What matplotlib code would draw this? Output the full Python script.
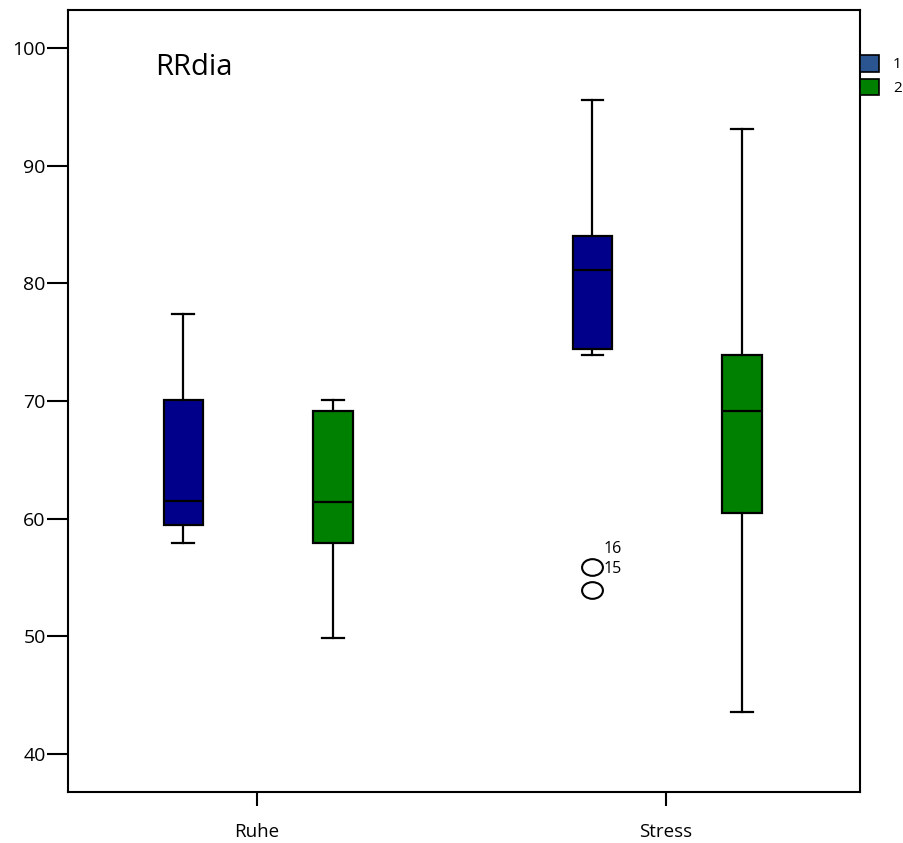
import matplotlib
matplotlib.use("Agg")
import matplotlib.pyplot as plt
from matplotlib.patches import Patch
from matplotlib.markers import MarkerStyle
from matplotlib.transforms import Affine2D

plt.rcParams['font.family'] = ['Open Sans', 'DejaVu Sans']

categories = ["Ruhe", "Stress"]
groups = ["1", "2"]
# per category: [group1, group2]
whislo = [[57.95, 49.9], [73.9, 43.55]]
q1 = [[59.45, 57.95], [74.45, 60.45]]
med = [[61.5, 61.4], [81.1, 69.15]]
q3 = [[70.05, 69.15], [84.0, 73.9]]
whishi = [[77.35, 70.05], [95.55, 93.1]]
fliers = [[[], []], [[55.9, 53.9], []]]
flier_labels = ["16", "15"]
box_colors = ["#00008B", "#008000"]
legend_colors = ["#2A5590", "#008000"]
yticks = [40, 50, 60, 70, 80, 90, 100]

fig = plt.figure(figsize=(9.04, 8.43), dpi=100)
ax = fig.add_axes([68/904, 1-792/843, (860-68)/904, (792-9.5)/843])

offsets = [-0.18, 0.185]
width = 0.097
lw = 1.6
ell = MarkerStyle('o', transform=Affine2D().scale(1.25, 1.0))
for ci, cat in enumerate(categories):
    for gi in range(2):
        stats = [dict(whislo=whislo[ci][gi], q1=q1[ci][gi], med=med[ci][gi],
                      q3=q3[ci][gi], whishi=whishi[ci][gi], fliers=fliers[ci][gi])]
        ax.bxp(stats, positions=[ci + offsets[gi]], widths=width, patch_artist=True,
               showfliers=True, manage_ticks=False,
               boxprops=dict(facecolor=box_colors[gi], edgecolor='black', linewidth=lw),
               medianprops=dict(color='black', linewidth=lw),
               whiskerprops=dict(color='black', linewidth=lw),
               capprops=dict(color='black', linewidth=lw),
               capwidths=width * 0.55,
               flierprops=dict(marker=ell, markersize=12, markerfacecolor='white',
                               markeredgecolor='black', markeredgewidth=1.5))

# outlier labels ("16" printed above "15" as in SPSS)
lab_x = 1 + offsets[0] + 0.027
ax.text(lab_x, fliers[1][0][0] + 1.55, flier_labels[0], fontsize=11.5, va='center', ha='left')
ax.text(lab_x, fliers[1][0][0] - 0.15, flier_labels[1], fontsize=11.5, va='center', ha='left')

ax.set_xlim(-0.462, 1.474)
ax.set_ylim(36.77, 103.27)
ax.set_xticks(range(len(categories)))
ax.set_xticklabels(categories, fontsize=13.5)
ax.set_yticks(yticks)
ax.set_yticklabels([str(t) for t in yticks], fontsize=14)
ax.tick_params(axis='y', length=15, width=1.5, direction='out', pad=1)
ax.tick_params(axis='x', length=10, width=1.5, direction='out', pad=12)
for s in ax.spines.values():
    s.set_linewidth(1.5)

ax.text(0.11, 0.926, "RRdia", transform=ax.transAxes, fontsize=21, ha='left', va='center')

handles = [Patch(facecolor=c, edgecolor='black', linewidth=1.2) for c in legend_colors]
fig.legend(handles, groups, loc='upper left', bbox_to_anchor=(860/904, 1 - 55/843),
           frameon=False, fontsize=11, handlelength=1.25, handleheight=1.3,
           handletextpad=0.9, labelspacing=0.4, borderaxespad=0, borderpad=0)

fig.savefig("out.png", dpi=100)
